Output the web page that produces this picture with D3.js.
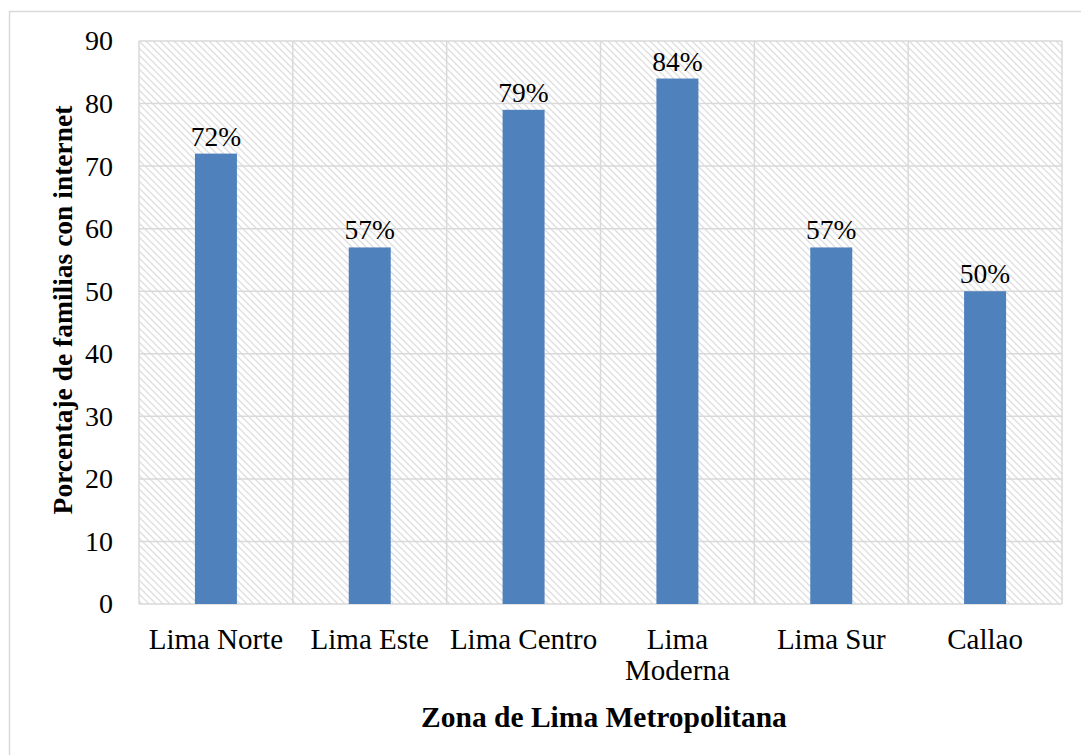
<!DOCTYPE html>
<html>
<head>
<meta charset="utf-8">
<script src="https://cdn.jsdelivr.net/npm/d3@7"></script>
<style>
  html, body { margin: 0; padding: 0; background: #fff; }
  svg { display: block; }
  svg text { font-family: "Liberation Serif", "Times New Roman", serif; fill: #000; }
</style>
</head>
<body>
<svg id="chart" width="1081" height="755"></svg>
<script>
// Zones of Metropolitan Lima and share of households with internet (%)
const zones = ["Lima Norte", "Lima Este", "Lima Centro", "Lima Moderna", "Lima Sur", "Callao"];
const zoneLines = [["Lima Norte"], ["Lima Este"], ["Lima Centro"], ["Lima", "Moderna"], ["Lima Sur"], ["Callao"]];
const shares = [72, 57, 79, 84, 57, 50];
const yTicks = [0, 10, 20, 30, 40, 50, 60, 70, 80, 90];
const yTitle = "Porcentaje de familias con internet";
const xTitle = "Zona de Lima Metropolitana";

const FONT = "'Liberation Serif', 'Times New Roman', serif";
const svg = d3.select("#chart");
const W = 1081, H = 755;
const plot = { left: 139, top: 41, right: 1062, bottom: 604 };

svg.append("rect").attr("width", W).attr("height", H).attr("fill", "#fff");

// Outer chart frame
svg.append("rect")
  .attr("x", 9.5).attr("y", 11.5)
  .attr("width", W + 20).attr("height", H + 20)
  .attr("fill", "none").attr("stroke", "#d9d9d9").attr("stroke-width", 1.5);

// Diagonal hatch used as plot-area fill
const defs = svg.append("defs");
const pat = defs.append("pattern")
  .attr("id", "hatch").attr("patternUnits", "userSpaceOnUse")
  .attr("width", 7).attr("height", 7);
pat.append("rect").attr("width", 7).attr("height", 7).attr("fill", "#fff");
pat.append("path")
  .attr("d", "M-1,-1 L8,8 M-8,-1 L1,8 M6,-1 L15,8")
  .attr("stroke", "#dedede").attr("stroke-width", 1.3);

const x = d3.scaleBand().domain(zones).range([plot.left, plot.right]).paddingInner(0).paddingOuter(0);
const y = d3.scaleLinear().domain([0, 90]).range([plot.bottom, plot.top]);

svg.append("rect")
  .attr("x", plot.left).attr("y", plot.top)
  .attr("width", plot.right - plot.left).attr("height", plot.bottom - plot.top)
  .attr("fill", "url(#hatch)");

// Horizontal gridlines
svg.append("g").selectAll("line").data(yTicks).join("line")
  .attr("x1", plot.left).attr("x2", plot.right)
  .attr("y1", d => y(d)).attr("y2", d => y(d))
  .attr("stroke", "#d9d9d9").attr("stroke-width", 1.5);

// Vertical gridlines at category boundaries
const bounds = zones.map(z => x(z)).concat([plot.right]);
svg.append("g").selectAll("line").data(bounds).join("line")
  .attr("x1", d => d).attr("x2", d => d)
  .attr("y1", plot.top).attr("y2", plot.bottom)
  .attr("stroke", "#d9d9d9").attr("stroke-width", 1.5);

// Bars
const barW = 42;
svg.append("g").selectAll("rect").data(zones).join("rect")
  .attr("x", (d) => x(d) + x.bandwidth() / 2 - barW / 2)
  .attr("y", (d, i) => y(shares[i]))
  .attr("width", barW)
  .attr("height", (d, i) => y(0) - y(shares[i]))
  .attr("fill", "#4f81bd");

// Value labels
svg.append("g").selectAll("text").data(zones).join("text")
  .attr("x", d => x(d) + x.bandwidth() / 2)
  .attr("y", (d, i) => y(shares[i]) - 8)
  .attr("text-anchor", "middle")
  .attr("font-family", FONT)
  .attr("font-size", 27.5)
  .text((d, i) => shares[i] + "%");

// Y axis tick labels
const yAxis = d3.axisLeft(y).tickValues(yTicks).tickSize(0).tickPadding(26);
const gy = svg.append("g").attr("transform", `translate(${plot.left},0)`).call(yAxis);
gy.select(".domain").remove();
gy.attr("font-family", FONT);
gy.selectAll("text").attr("font-size", 28).attr("font-family", FONT).attr("fill", "#000");

// X category labels
const gx = svg.append("g");
zones.forEach((z, i) => {
  const cx = x(z) + x.bandwidth() / 2;
  const t = gx.append("text")
    .attr("x", cx)
    .attr("y", 649)
    .attr("text-anchor", "middle")
    .attr("font-family", FONT)
    .attr("font-size", 29);
  zoneLines[i].forEach((ln, j) => {
    t.append("tspan").attr("x", cx).attr("dy", j === 0 ? 0 : 31).text(ln);
  });
});

// Axis titles
svg.append("text")
  .attr("transform", `translate(72,310) rotate(-90)`)
  .attr("text-anchor", "middle")
  .attr("font-family", FONT)
  .attr("font-size", 27.5).attr("font-weight", "bold")
  .text(yTitle);

svg.append("text")
  .attr("x", 604).attr("y", 727)
  .attr("text-anchor", "middle")
  .attr("font-family", FONT)
  .attr("font-size", 29.5).attr("font-weight", "bold")
  .text(xTitle);
</script>
</body>
</html>
